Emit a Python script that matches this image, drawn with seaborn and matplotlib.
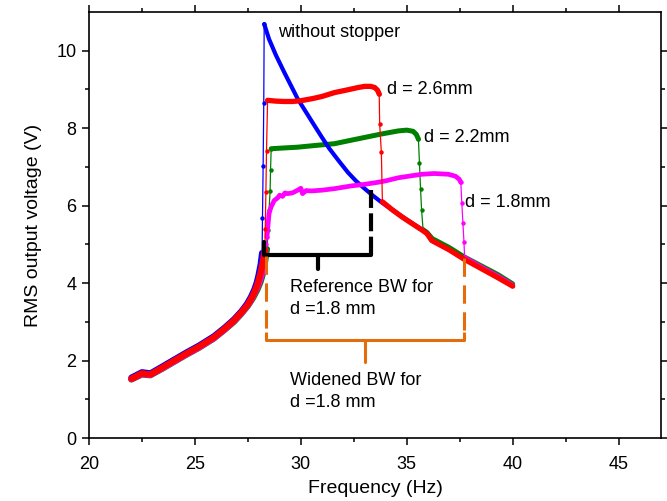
import numpy as np
import pandas as pd
import matplotlib
matplotlib.use("Agg")
import matplotlib.pyplot as plt
import seaborn as sns

# ---- frequency sweeps (Hz, V rms) ----
# without stopper
free_up_f = [22.0, 22.5, 22.9, 23.5, 24.0, 24.6, 25.2, 25.9, 26.4, 26.85, 27.2, 27.45,
             27.65, 27.8, 27.92, 28.0, 28.1, 28.17]
free_up_v = [1.56, 1.7, 1.67, 1.86, 2.02, 2.21, 2.39, 2.63, 2.85, 3.07, 3.28, 3.46,
             3.65, 3.83, 4.02, 4.2, 4.48, 4.78]
free_jump_f = [28.17, 28.19, 28.22, 28.25, 28.27]
free_jump_v = [4.78, 5.69, 7.02, 8.64, 10.69]
free_down_f = [28.27, 28.5, 28.82, 29.22, 29.85, 30.25, 30.64, 31.0, 31.35, 31.8, 32.22,
               32.6, 33.01, 33.4, 33.8, 34.3, 34.8, 35.3, 35.78, 35.95, 36.18, 37.0,
               37.7, 38.5, 39.3, 40.0]
free_down_v = [10.69, 10.3, 9.89, 9.44, 8.76, 8.41, 8.07, 7.76, 7.47, 7.15, 6.86,
               6.64, 6.44, 6.26, 6.09, 5.9, 5.71, 5.53, 5.36, 5.29, 5.1, 4.86,
               4.63, 4.39, 4.15, 3.93]

# d = 2.6 mm
d26_up_f = [22.0, 22.5, 22.9, 23.5, 24.0, 24.6, 25.2, 25.9, 26.4, 26.85, 27.2, 27.5,
            27.7, 27.85, 27.97, 28.07, 28.2, 28.3]
d26_up_v = [1.53, 1.67, 1.64, 1.83, 1.99, 2.18, 2.36, 2.6, 2.82, 3.04, 3.25, 3.45,
            3.64, 3.82, 4.0, 4.2, 4.52, 4.85]
d26_jump_f = [28.3, 28.32, 28.35, 28.38, 28.43]
d26_jump_v = [4.85, 5.4, 6.35, 7.42, 8.72]
d26_top_f = [28.43, 28.8, 29.2, 29.6, 30.0, 30.6, 31.0, 31.59, 32.2, 32.7, 33.01, 33.3,
             33.49, 33.62, 33.7]
d26_top_v = [8.72, 8.7, 8.69, 8.69, 8.71, 8.77, 8.82, 8.92, 8.99, 9.05, 9.08, 9.08,
             9.05, 8.98, 8.88]
d26_drop_f = [33.7, 33.72, 33.8, 33.85]
d26_drop_v = [8.88, 8.12, 7.38, 6.1]
d26_down_f = [33.85, 34.3, 34.8, 35.3, 35.75, 35.95, 36.18, 37.0, 37.7, 38.5, 39.3, 40.0]
d26_down_v = [6.1, 5.9, 5.7, 5.52, 5.36, 5.28, 5.1, 4.86, 4.62, 4.38, 4.14, 3.92]

# d = 2.2 mm
d22_up_f = [22.0, 22.5, 22.9, 23.5, 24.0, 24.6, 25.2, 25.9, 26.4, 26.85, 27.2, 27.5,
            27.75, 27.95, 28.1, 28.2, 28.3, 28.4]
d22_up_v = [1.51, 1.64, 1.62, 1.8, 1.96, 2.15, 2.33, 2.57, 2.79, 3.0, 3.21, 3.41,
            3.62, 3.83, 4.03, 4.22, 4.5, 4.88]
d22_jump_f = [28.4, 28.46, 28.5, 28.55, 28.57, 28.6]
d22_jump_v = [4.88, 5.36, 5.89, 6.39, 6.92, 7.47]
d22_top_f = [28.6, 29.2, 29.85, 30.6, 31.59, 32.2, 33.0, 33.8, 34.6, 35.0, 35.3, 35.45, 35.55]
d22_top_v = [7.47, 7.49, 7.51, 7.55, 7.6, 7.67, 7.76, 7.85, 7.93, 7.95, 7.92, 7.84, 7.72]
d22_drop_f = [35.55, 35.6, 35.65, 35.7, 35.77]
d22_drop_v = [7.72, 7.09, 6.44, 5.88, 5.38]
d22_down_f = [35.77, 35.95, 36.2, 37.0, 37.7, 38.5, 39.3, 40.0]
d22_down_v = [5.38, 5.31, 5.15, 4.92, 4.68, 4.45, 4.22, 3.98]

# d = 1.8 mm
d18_up_f = [22.0, 22.5, 22.9, 23.5, 24.0, 24.6, 25.2, 25.9, 26.4, 26.85, 27.2, 27.5,
            27.72, 27.9, 28.05, 28.15, 28.26, 28.33]
d18_up_v = [1.52, 1.65, 1.63, 1.81, 1.97, 2.16, 2.34, 2.58, 2.8, 3.02, 3.23, 3.43,
            3.63, 3.83, 4.03, 4.22, 4.52, 4.85]
d18_jump_f = [28.33, 28.36, 28.4]
d18_jump_v = [4.85, 5.0, 5.19]
d18_top_f = [28.4, 28.5, 28.59, 28.74, 28.9, 29.0, 29.14, 29.25, 29.38, 29.6, 29.75, 29.85,
             30.0, 30.08, 30.25, 30.5, 31.0, 31.6, 32.38, 33.0, 33.6, 34.0, 34.6, 35.2,
             35.7, 36.3, 36.97, 37.3, 37.48, 37.55]
d18_top_v = [5.19, 5.8, 5.96, 6.13, 6.2, 6.27, 6.24, 6.33, 6.31, 6.33, 6.37, 6.4,
             6.45, 6.31, 6.39, 6.38, 6.4, 6.44, 6.51, 6.55, 6.6, 6.64, 6.72, 6.77,
             6.81, 6.83, 6.81, 6.76, 6.68, 6.6]
d18_drop_f = [37.55, 37.6, 37.65, 37.7, 37.73]
d18_drop_v = [6.6, 6.06, 5.55, 5.06, 4.66]
d18_down_f = [37.73, 38.5, 39.3, 40.0]
d18_down_v = [4.66, 4.42, 4.18, 3.95]

# bandwidth braces (Hz, V)
ref_bw = (28.25, 33.33)
ref_brace_y = 4.72
ref_top = (5.05, 6.4)
wide_bw = (28.35, 37.68)
wide_brace_y = 2.54
wide_top = (4.7, 4.66)

sns.set_theme(style="ticks")
plt.rcParams["font.family"] = ["Liberation Sans", "DejaVu Sans"]
plt.rcParams["text.color"] = "black"
plt.rcParams["axes.labelcolor"] = "black"

fig = plt.figure(figsize=(6.67, 5.01), dpi=100)
ax = fig.add_axes([0.1334, 0.1257, 0.8576, 0.8503])


def sweep(parts, color, z, lw_low, lw_high):
    for i, (f, v) in enumerate(parts):
        df = pd.DataFrame({"f": f, "v": v})
        if i % 2 == 0:
            lw = lw_low if i == 0 else lw_high
            sns.lineplot(data=df, x="f", y="v", sort=False, estimator=None, color=color,
                         lw=lw, solid_capstyle="round", solid_joinstyle="round",
                         ax=ax, zorder=z, legend=False)
        else:
            sns.lineplot(data=df, x="f", y="v", sort=False, estimator=None, color=color,
                         lw=0.9, marker="o", markersize=3.2, markeredgewidth=0,
                         ax=ax, zorder=z, legend=False)


sweep([(d22_up_f, d22_up_v), (d22_jump_f, d22_jump_v), (d22_top_f, d22_top_v),
       (d22_drop_f, d22_drop_v), (d22_down_f, d22_down_v)], "#008000", 2, 4.4, 3.6)
sweep([(free_up_f, free_up_v), (free_jump_f, free_jump_v), (free_down_f, free_down_v)],
      "#0000FF", 3, 4.4, 3.0)
sweep([(d18_up_f, d18_up_v), (d18_jump_f, d18_jump_v), (d18_top_f, d18_top_v),
       (d18_drop_f, d18_drop_v), (d18_down_f, d18_down_v)], "#FF00FF", 4, 4.4, 3.4)
sweep([(d26_up_f, d26_up_v), (d26_jump_f, d26_jump_v), (d26_top_f, d26_top_v),
       (d26_drop_f, d26_drop_v), (d26_down_f, d26_down_v)], "#FF0000", 5, 4.6, 3.8)


def brace(span, y, tops, drop, color, lw, dash, solid_left):
    x0, x1 = span
    xm = (x0 + x1) / 2
    top_l, top_r = tops
    corner = 0.2
    if solid_left:
        ax.plot([x0, x0], [top_l, y + corner], color=color, lw=lw, zorder=6,
                solid_capstyle="round")
    else:
        ax.plot([x0, x0], [top_l, y + corner], color=color, lw=lw, dashes=dash,
                zorder=6, solid_capstyle="butt")
    ax.plot([x1, x1], [top_r, y + corner], color=color, lw=lw, dashes=dash,
            zorder=6, solid_capstyle="butt")
    ax.plot([x0, x0, x1, x1], [y + corner, y, y, y + corner], color=color, lw=lw,
            solid_joinstyle="round", solid_capstyle="butt", zorder=6)
    ax.plot([xm, xm], [y, y - drop], color=color, lw=lw, solid_capstyle="round", zorder=6)


brace(ref_bw, ref_brace_y, ref_top, 0.35, "black", 3.0, (4.3, 1.3), True)
brace(wide_bw, wide_brace_y, wide_top, 0.57, "#E46C0A", 2.2, (6.0, 2.8), False)

txt = dict(fontsize=13, color="black", va="center", ha="left")
ax.text(28.9, 10.46, "without stopper", **txt)
ax.text(34.09, 9.0, "d = 2.6mm", **txt)
ax.text(35.8, 7.76, "d = 2.2mm", **txt)
ax.text(37.74, 6.08, "d = 1.8mm", **txt)
ax.text(29.5, 3.6, "Reference BW for\nd =1.8 mm", linespacing=1.35, **txt)
ax.text(29.5, 1.2, "Widened BW for\nd =1.8 mm", linespacing=1.35, **txt)

ax.set_xlim(20, 47)
ax.set_ylim(0, 11)
ax.set_xticks([20, 25, 30, 35, 40, 45])
ax.set_xticks(np.arange(22.5, 47, 5), minor=True)
ax.set_yticks([0, 2, 4, 6, 8, 10])
ax.set_yticks([1, 3, 5, 7, 9], minor=True)
ax.set_xlabel("Frequency (Hz)", fontsize=14, labelpad=5, color="black")
ax.set_ylabel("RMS output voltage (V)", fontsize=14, labelpad=10, color="black")
ax.tick_params(axis="both", which="major", labelsize=13, length=5, width=1.1,
               direction="out", color="black", labelcolor="black", top=True, right=True)
ax.tick_params(axis="both", which="minor", length=3, width=1.1, direction="out",
               color="black", top=True, right=True)
ax.tick_params(axis="x", which="major", pad=8)
ax.tick_params(axis="y", which="major", pad=4)
for sp in ax.spines.values():
    sp.set_visible(True)
    sp.set_linewidth(1.2)
    sp.set_color("black")

fig.savefig("out.png", dpi=100)
